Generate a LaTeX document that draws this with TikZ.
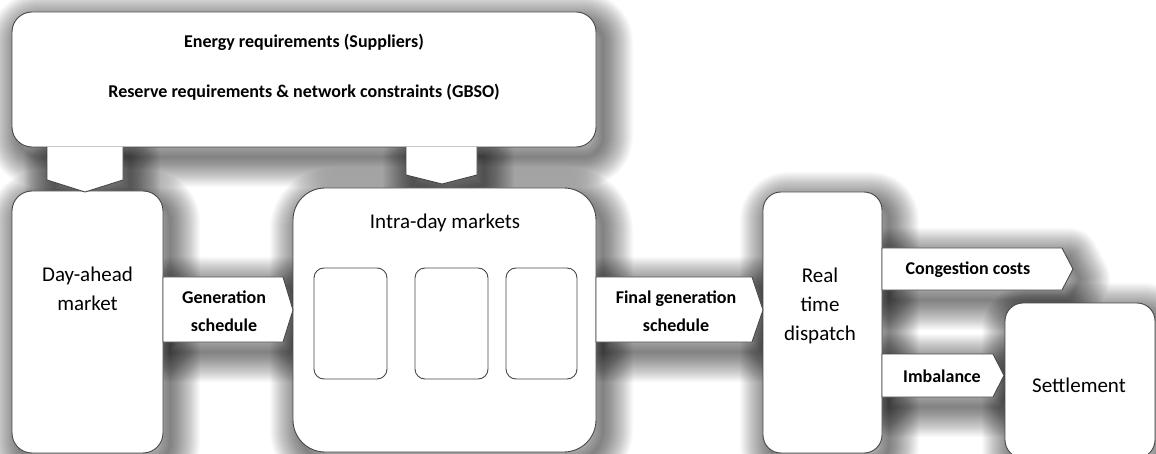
\documentclass[tikz,border=0pt]{standalone}
\usepackage{fontspec}
\setmainfont{Carlito}
\usetikzlibrary{calc}
\pgfdeclarelayer{back}
\pgfdeclarelayer{bg}
\pgfsetlayers{back,bg,main}
\newcommand{\pathshadow}[1]{%
  \begin{pgfonlayer}{bg}
  \foreach \w in {2,4,...,60}{\draw[line width=\w pt, black, draw opacity=0.021, line join=round, shift={(7,10)}] #1;}
  \end{pgfonlayer}}
\newcommand{\nodeshadow}[2]{%
  \begin{pgfonlayer}{bg}
  \foreach \w in {2,4,...,60}{\draw[line width=\w pt, black, draw opacity=0.021, line join=round, rounded corners=#2]
     ($(#1.north west)+(7,10)$) rectangle ($(#1.south east)+(7,10)$);}
  \end{pgfonlayer}}
\begin{document}
\begin{tikzpicture}[x=1pt,y=-1pt,
  box/.style={draw=black!72, line width=0.9pt, fill=white, inner sep=0pt, outer sep=0pt},
  arr/.style={draw=black!72, line width=0.9pt, fill=white, line join=miter},
  big/.style={font=\fontsize{21}{29}\selectfont, align=center, inner sep=0pt},
  small/.style={font=\fontsize{18}{28}\selectfont\bfseries, align=center, inner sep=0pt}]
\begin{pgfonlayer}{back}
\fill[white] (0,0) rectangle (1156,454);
\end{pgfonlayer}
\useasboundingbox (0,0) rectangle (1156,454);

% main boxes
\node[box, rounded corners=20pt, minimum width=584pt, minimum height=135pt] (req) at (304,79.5) {};
\node[box, rounded corners=20pt, minimum width=151pt, minimum height=262pt] (da) at (87.5,322) {};
\node[box, rounded corners=32pt, minimum width=303pt, minimum height=264pt] (intra) at (444.5,320) {};
\node[box, rounded corners=10pt, minimum width=73pt, minimum height=111pt] (ib1) at (350.5,323.5) {};
\node[box, rounded corners=10pt, minimum width=73pt, minimum height=111pt] (ib2) at (451.5,323.5) {};
\node[box, rounded corners=10pt, minimum width=71pt, minimum height=111pt] (ib3) at (541.5,323.5) {};
\node[box, rounded corners=18pt, minimum width=119pt, minimum height=261pt] (rt) at (822.5,322.5) {};
\node[box, rounded corners=18pt, minimum width=150pt, minimum height=155pt] (set) at (1080,380.5) {};

\nodeshadow{req}{20pt}
\nodeshadow{da}{20pt}
\nodeshadow{intra}{32pt}
\nodeshadow{rt}{18pt}
\nodeshadow{set}{18pt}

% down arrows from the requirements box
\draw[arr] (47,147) -- (47,180) -- (85,192) -- (123,180) -- (123,147);
\pathshadow{(47,147) -- (47,180) -- (85,192) -- (123,180) -- (123,147) -- cycle}
\draw[arr] (406,147) -- (406,175) -- (442,184) -- (477,175) -- (477,147);
\pathshadow{(406,147) -- (406,175) -- (442,184) -- (477,175) -- (477,147) -- cycle}

% horizontal arrows
\draw[arr] (da.east |- 0,277) -- (283,277) -- (293,310) -- (283,342) -- (da.east |- 0,342) -- cycle;
\pathshadow{(163,277) -- (283,277) -- (293,310) -- (283,342) -- (163,342) -- cycle}
\draw[arr] (intra.east |- 0,277) -- (752,277) -- (763,310) -- (752,342) -- (intra.east |- 0,342) -- cycle;
\pathshadow{(596,277) -- (752,277) -- (763,310) -- (752,342) -- (596,342) -- cycle}
\draw[arr] (rt.east |- 0,248) -- (1062,248) -- (1073,269) -- (1062,290) -- (rt.east |- 0,290) -- cycle;
\pathshadow{(882,248) -- (1062,248) -- (1073,269) -- (1062,290) -- (882,290) -- cycle}
\draw[arr] (rt.east |- 0,354) -- (993,354) -- (1004,375.5) -- (993,397) -- (rt.east |- 0,397) -- cycle;
\pathshadow{(882,354) -- (993,354) -- (1004,375.5) -- (993,397) -- (882,397) -- cycle}

% texts
\node[small] (e1) at (304,42) {Energy requirements (Suppliers)};
\node[small] (e2) at (304,92) {Reserve requirements \& network constraints (GBSO)};
\node[big] (datxt) at (87.5,289) {Day-ahead\\market};
\node[small] (gentxt) at (224,311) {Generation\\schedule};
\node[big] (intratxt) at (445,223) {Intra-day markets};
\node[small] (fgtxt) at (676,311) {Final generation\\schedule};
\node[big] (rttxt) at (820,306) {Real\\time\\dispatch};
\node[small] (cctxt) at (968,270) {Congestion costs};
\node[small] (imbtxt) at (942,376) {Imbalance};
\node[big] (settxt) at (1079,385) {Settlement};
\end{tikzpicture}
\end{document}
